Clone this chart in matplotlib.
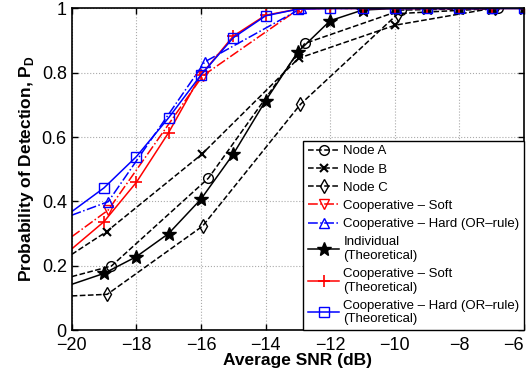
import numpy as np
import matplotlib
matplotlib.use("Agg")
import matplotlib.pyplot as plt

plt.rcParams['font.family'] = ['Liberation Sans', 'DejaVu Sans']
plt.rcParams['mathtext.fontset'] = 'custom'
plt.rcParams['mathtext.bf'] = 'Liberation Sans:bold'
plt.rcParams['mathtext.rm'] = 'Liberation Sans'

# simulated curves (first point is where the line meets the left edge, no marker)
node_a_x = [-20, -18.77, -15.77, -12.79, -9.8, -6.8]
node_a_y = [0.166, 0.199, 0.472, 0.891, 0.995, 1.0]
node_b_x = [-20, -18.92, -15.98, -12.98, -9.99, -7.0]
node_b_y = [0.235, 0.306, 0.546, 0.845, 0.948, 1.0]
node_c_x = [-20, -18.9, -15.95, -12.92, -9.9, -6.9]
node_c_y = [0.106, 0.111, 0.323, 0.702, 0.984, 1.0]
soft_x = [-20, -18.87, -15.95, -12.95, -10.0, -7.0]
soft_y = [0.29, 0.373, 0.79, 1.0, 1.0, 1.0]
hard_x = [-20, -18.87, -15.88, -12.9, -9.95, -7.0]
hard_y = [0.357, 0.399, 0.834, 1.0, 1.0, 1.0]

# theoretical curves
snr_th = np.arange(-20, -5)
indiv_th = [0.142, 0.176, 0.228, 0.30, 0.407, 0.547, 0.713, 0.865, 0.962, 0.995,
            1.0, 1.0, 1.0, 1.0, 1.0]
soft_th = [0.252, 0.337, 0.459, 0.614, 0.793, 0.914, 0.979, 0.998, 1.0, 1.0,
           1.0, 1.0, 1.0, 1.0, 1.0]
hard_th = [0.368, 0.442, 0.539, 0.66, 0.793, 0.909, 0.977, 0.998, 1.0, 1.0,
           1.0, 1.0, 1.0, 1.0, 1.0]

fig = plt.figure(figsize=(5.31, 3.84), dpi=100)
ax = fig.add_axes([0.135, 0.1406, 0.852, 0.8374])

me_sim = list(range(1, 6))
me_th = list(range(1, 15))
open_kw = dict(markerfacecolor='none', markersize=7, markeredgewidth=1.0)

ax.plot(node_a_x, node_a_y, 'k--', marker='o', markevery=me_sim, lw=1.1, label='Node A', **open_kw)
ax.plot(node_b_x, node_b_y, 'k--', marker='x', markevery=me_sim, lw=1.1, markersize=6,
        markeredgewidth=1.5, label='Node B')
ax.plot(node_c_x, node_c_y, 'k--', marker='d', markevery=me_sim, lw=1.1, label='Node C', **open_kw)
ax.plot(soft_x, soft_y, 'r-.', marker='v', markevery=me_sim, lw=1.1,
        label='Cooperative – Soft', **open_kw)
ax.plot(hard_x, hard_y, 'b-.', marker='^', markevery=me_sim, lw=1.1,
        label='Cooperative – Hard (OR–rule)', **open_kw)
ax.plot(snr_th, indiv_th, 'k-', marker='*', markevery=me_th, lw=1.1, markersize=10,
        label='Individual\n(Theoretical)')
ax.plot(snr_th, soft_th, 'r-', marker='+', markevery=me_th, lw=1.1, markersize=8,
        markeredgewidth=1.2, label='Cooperative – Soft\n(Theoretical)')
ax.plot(snr_th, hard_th, 'b-', marker='s', markevery=me_th, lw=1.1,
        label='Cooperative – Hard (OR–rule)\n(Theoretical)', **open_kw)

ax.set_xlim(-20, -6)
ax.set_ylim(0, 1)
ax.set_xticks(np.arange(-20, -5, 2))
ax.set_yticks([0, 0.2, 0.4, 0.6, 0.8, 1])
ax.set_yticklabels(['0', '0.2', '0.4', '0.6', '0.8', '1'])
ax.tick_params(direction='in', labelsize=13, length=4, width=1, top=True, right=True)
ax.tick_params(axis='x', pad=5)
ax.get_xticklabels()[-1].set_horizontalalignment('right')
ax.grid(True, linestyle=':', color='#aaaaaa', linewidth=0.8)
for s in ax.spines.values():
    s.set_linewidth(1.2)

ax.set_xlabel('Average SNR (dB)', fontsize=12.5, fontweight='bold', labelpad=-1)
ax.set_ylabel(r'Probability of Detection, P$_{\mathbf{D}}$', fontsize=12.5,
              fontweight='bold', labelpad=4)

leg = ax.legend(loc='lower right', fontsize=9.5, borderaxespad=0, handlelength=2.4,
                labelspacing=0.45, handletextpad=0.3, borderpad=0.35,
                fancybox=False, framealpha=1, edgecolor='black')
leg.get_frame().set_linewidth(1.0)

fig.savefig('out.png', dpi=100)
